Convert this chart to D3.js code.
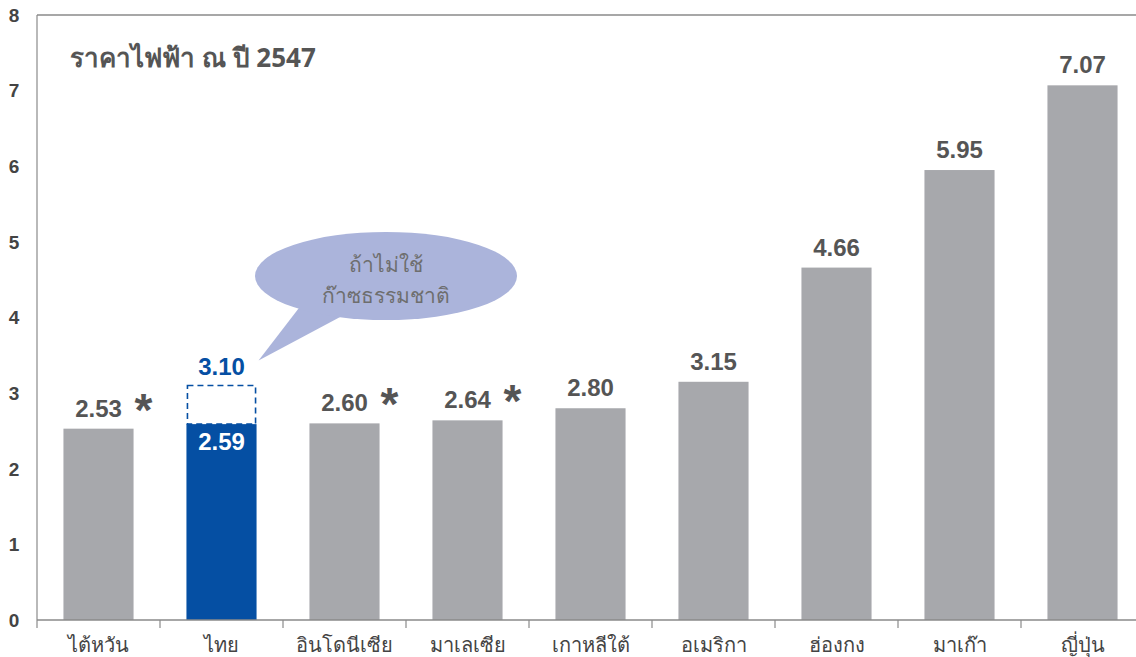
<!DOCTYPE html>
<html>
<head>
<meta charset="utf-8">
<script src="https://cdn.jsdelivr.net/npm/d3@7"></script>
<style>
  body { margin: 0; background: #fff; }
  text { font-family: "Noto Sans", "DejaVu Sans", sans-serif; }
  .num { font-family: "Liberation Sans", Arial, sans-serif; }
</style>
</head>
<body>
<div id="wrapper"></div>
<script>
// data
const countries = ["ไต้หวัน", "ไทย", "อินโดนีเซีย", "มาเลเซีย", "เกาหลีใต้", "อเมริกา", "ฮ่องกง", "มาเก๊า", "ญี่ปุ่น"];
const prices = [2.53, 2.59, 2.60, 2.64, 2.80, 3.15, 4.66, 5.95, 7.07];
const starred = ["ไต้หวัน", "อินโดนีเซีย", "มาเลเซีย"];
const highlight = "ไทย";
const altPrice = 3.10; // Thai price without natural gas
const yTicks = [0, 1, 2, 3, 4, 5, 6, 7, 8];
const title = "ราคาไฟฟ้า ณ ปี 2547";
const calloutLines = ["ถ้าไม่ใช้", "ก๊าซธรรมชาติ"];

const width = 1136, height = 657;
const plotLeft = 37, plotTop = 15, plotBottom = 620;

const svg = d3.select("#wrapper").append("svg")
  .attr("width", width)
  .attr("height", height);

const x = d3.scaleBand()
  .domain(countries)
  .range([plotLeft, plotLeft + 123 * countries.length])
  .paddingInner(0.43)
  .paddingOuter(0.215);

const y = d3.scaleLinear()
  .domain([0, 8])
  .range([plotBottom, plotTop]);

// frame: top line + left line
svg.append("line")
  .attr("x1", plotLeft).attr("x2", width)
  .attr("y1", y(8)).attr("y2", y(8))
  .attr("stroke", "#8a8a8a").attr("stroke-width", 1.5);
svg.append("line")
  .attr("x1", plotLeft).attr("x2", plotLeft)
  .attr("y1", y(8)).attr("y2", plotBottom)
  .attr("stroke", "#8a8a8a").attr("stroke-width", 1.2);

// y labels
svg.selectAll(".ylab")
  .data(yTicks)
  .enter()
  .append("text")
  .attr("class", "ylab num")
  .attr("x", 14)
  .attr("y", d => y(d))
  .attr("dy", "0.36em")
  .attr("text-anchor", "middle")
  .attr("font-size", 19)
  .attr("font-weight", "bold")
  .attr("fill", "#444")
  .text(d => d);

// bars
svg.selectAll(".bar")
  .data(countries)
  .enter()
  .append("rect")
  .attr("class", "bar")
  .attr("x", d => x(d))
  .attr("width", x.bandwidth())
  .attr("y", (d, i) => y(prices[i]))
  .attr("height", (d, i) => plotBottom - y(prices[i]))
  .attr("fill", d => d === highlight ? "#054fa3" : "#a7a8ac");

// x axis with ticks between bands
const xAxis = svg.append("g").attr("transform", `translate(0,${plotBottom})`);
const gap = (x.step() - x.bandwidth()) / 2;
const bounds = countries.map(d => x(d) - gap);
xAxis.append("line")
  .attr("x1", plotLeft).attr("x2", width)
  .attr("stroke", "#8a8a8a").attr("stroke-width", 1.5);
xAxis.selectAll(".tick")
  .data(bounds)
  .enter()
  .append("line")
  .attr("x1", d => d).attr("x2", d => d)
  .attr("y1", 0).attr("y2", 8)
  .attr("stroke", "#8a8a8a").attr("stroke-width", 1.2);
xAxis.selectAll(".xlab")
  .data(countries)
  .enter()
  .append("text")
  .attr("x", d => x(d) + x.bandwidth() / 2)
  .attr("y", 32)
  .attr("text-anchor", "middle")
  .attr("font-size", 20)
  .attr("fill", "#444")
  .text(d => d);

// value labels
svg.selectAll(".val")
  .data(countries.filter(d => d !== highlight))
  .enter()
  .append("text")
  .attr("class", "num")
  .attr("x", d => x(d) + x.bandwidth() / 2)
  .attr("y", d => y(prices[countries.indexOf(d)]) - 12)
  .attr("text-anchor", "middle")
  .attr("font-size", 24)
  .attr("font-weight", "bold")
  .attr("fill", "#555")
  .text(d => prices[countries.indexOf(d)].toFixed(2));

// asterisks
svg.selectAll(".star")
  .data(starred)
  .enter()
  .append("text")
  .attr("class", "num")
  .attr("x", d => x(d) + x.bandwidth() / 2 + 45)
  .attr("y", d => y(prices[countries.indexOf(d)]) - 3)
  .attr("text-anchor", "middle")
  .attr("font-size", 46)
  .attr("font-weight", "bold")
  .attr("fill", "#555")
  .text("*");

// highlighted bar extras
const hi = countries.indexOf(highlight);
const hx = x(highlight);
svg.append("rect")
  .attr("x", hx + 1)
  .attr("y", y(altPrice))
  .attr("width", x.bandwidth() - 2)
  .attr("height", y(prices[hi]) - y(altPrice))
  .attr("fill", "none")
  .attr("stroke", "#054fa3")
  .attr("stroke-width", 1.6)
  .attr("stroke-dasharray", "6,4");
svg.append("text")
  .attr("class", "num")
  .attr("x", hx + x.bandwidth() / 2)
  .attr("y", y(prices[hi]) + 26)
  .attr("text-anchor", "middle")
  .attr("font-size", 24)
  .attr("font-weight", "bold")
  .attr("fill", "#fff")
  .text(prices[hi].toFixed(2));
svg.append("text")
  .attr("class", "num")
  .attr("x", hx + x.bandwidth() / 2)
  .attr("y", y(altPrice) - 11)
  .attr("text-anchor", "middle")
  .attr("font-size", 24)
  .attr("font-weight", "bold")
  .attr("fill", "#054fa3")
  .text(altPrice.toFixed(2));

// callout bubble
const cx = 386, cy = 276;
svg.append("path")
  .attr("d", `M302,304 L${hx + x.bandwidth() + 2},${y(altPrice) - 25} L342,316 Z`)
  .attr("fill", "#abb4db");
svg.append("ellipse")
  .attr("cx", cx).attr("cy", cy)
  .attr("rx", 131).attr("ry", 44)
  .attr("fill", "#abb4db");
svg.selectAll(".callout")
  .data(calloutLines)
  .enter()
  .append("text")
  .attr("x", cx)
  .attr("y", (d, i) => 272 + i * 31)
  .attr("text-anchor", "middle")
  .attr("font-size", 21)
  .attr("fill", "#6e6e6e")
  .text(d => d);

// title
svg.append("text")
  .attr("x", 70)
  .attr("y", 67)
  .attr("font-size", 26)
  .attr("font-weight", "bold")
  .attr("fill", "#555")
  .text(title);
</script>
</body>
</html>
